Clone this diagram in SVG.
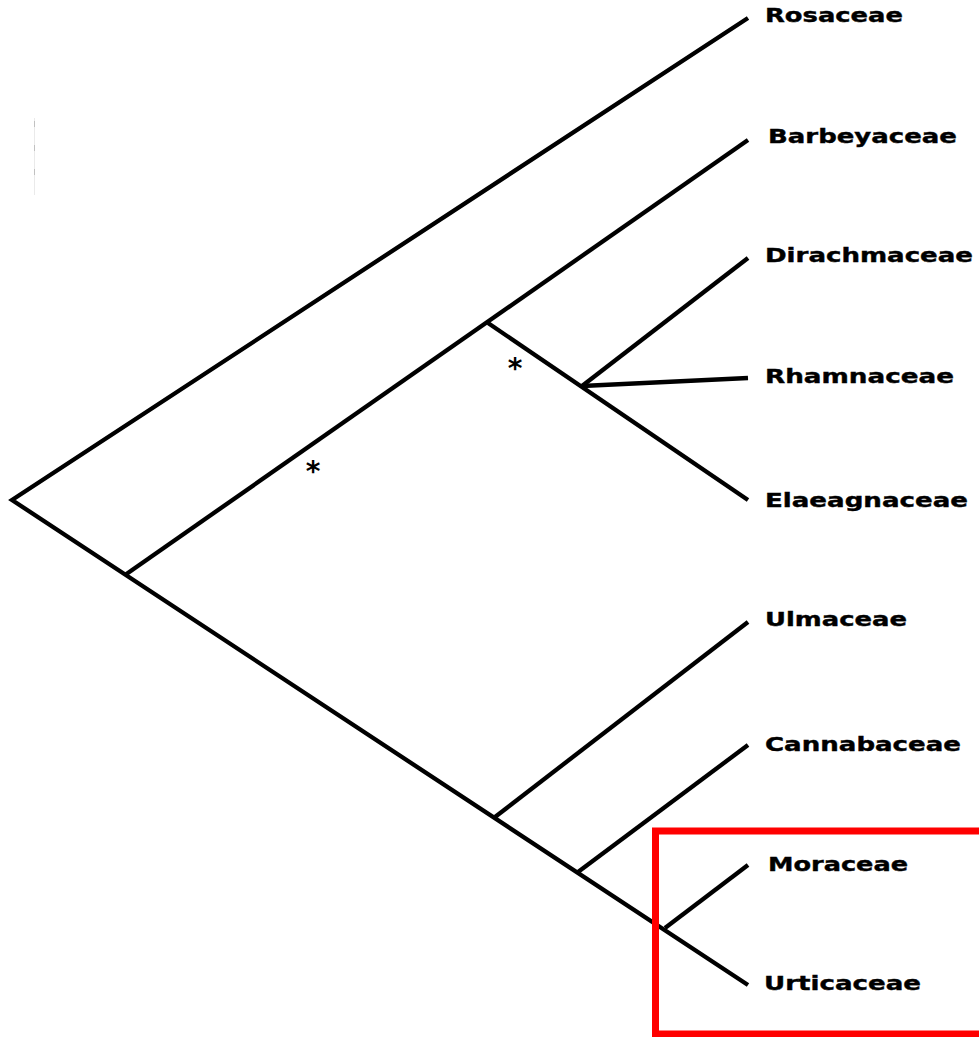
<svg xmlns="http://www.w3.org/2000/svg" width="979" height="1037" viewBox="0 0 979 1037">
<style>
.e{stroke:#000;stroke-width:4.3;fill:none;stroke-linecap:butt;stroke-linejoin:miter}
.l{font-family:"DejaVu Sans","Verdana",sans-serif;font-weight:bold;font-size:19.5px;fill:#000;stroke:#000;stroke-width:0.4}
.s{font-family:"DejaVu Sans",sans-serif;font-weight:bold;font-size:28px;fill:#000;text-anchor:middle}
</style>
<rect width="979" height="1037" fill="#fff"/>
<g id="artifact" stroke="#999" stroke-width="1" opacity="0.6">
<line x1="34.5" y1="118" x2="34.5" y2="195" stroke="#ddd"/>
<line x1="34.5" y1="121" x2="34.5" y2="127"/>
<line x1="34.5" y1="145" x2="34.5" y2="151"/>
<line x1="34.5" y1="169" x2="34.5" y2="175"/>
</g>
<g id="connectors">
<polyline class="e" points="748,18 12,500 748,985"/>
<polyline class="e" points="125,575 748,140"/>
<polyline class="e" points="488,323 748,500"/>
<line class="e" x1="582" y1="386" x2="748" y2="258"/>
<line class="e" x1="582" y1="386" x2="748" y2="378"/>
<line class="e" x1="495" y1="817" x2="748" y2="622"/>
<line class="e" x1="578" y1="872" x2="748" y2="745"/>
<line class="e" x1="665" y1="928" x2="748" y2="865"/>
</g>
<g id="n-rosaceae"><text class="l" x="765" y="22" textLength="138" lengthAdjust="spacingAndGlyphs">Rosaceae</text></g>
<g id="n-barbeyaceae"><text class="l" x="768" y="143" textLength="189" lengthAdjust="spacingAndGlyphs">Barbeyaceae</text></g>
<g id="n-dirachmaceae"><text class="l" x="765" y="262" textLength="208" lengthAdjust="spacingAndGlyphs">Dirachmaceae</text></g>
<g id="n-rhamnaceae"><text class="l" x="765" y="383" textLength="189" lengthAdjust="spacingAndGlyphs">Rhamnaceae</text></g>
<g id="n-elaeagnaceae"><text class="l" x="765" y="507" textLength="203" lengthAdjust="spacingAndGlyphs">Elaeagnaceae</text></g>
<g id="n-ulmaceae"><text class="l" x="765" y="626" textLength="142" lengthAdjust="spacingAndGlyphs">Ulmaceae</text></g>
<g id="n-cannabaceae"><text class="l" x="765" y="751" textLength="196" lengthAdjust="spacingAndGlyphs">Cannabaceae</text></g>
<g id="n-moraceae"><text class="l" x="768" y="871" textLength="140" lengthAdjust="spacingAndGlyphs">Moraceae</text></g>
<g id="n-urticaceae"><text class="l" x="764" y="990" textLength="157" lengthAdjust="spacingAndGlyphs">Urticaceae</text></g>
<g id="stars">
<text class="s" x="313" y="481">*</text>
<text class="s" x="515" y="378">*</text>
</g>
<g id="highlight"><rect x="655.5" y="831" width="340" height="203" fill="none" stroke="#ff0000" stroke-width="7"/></g>
</svg>
